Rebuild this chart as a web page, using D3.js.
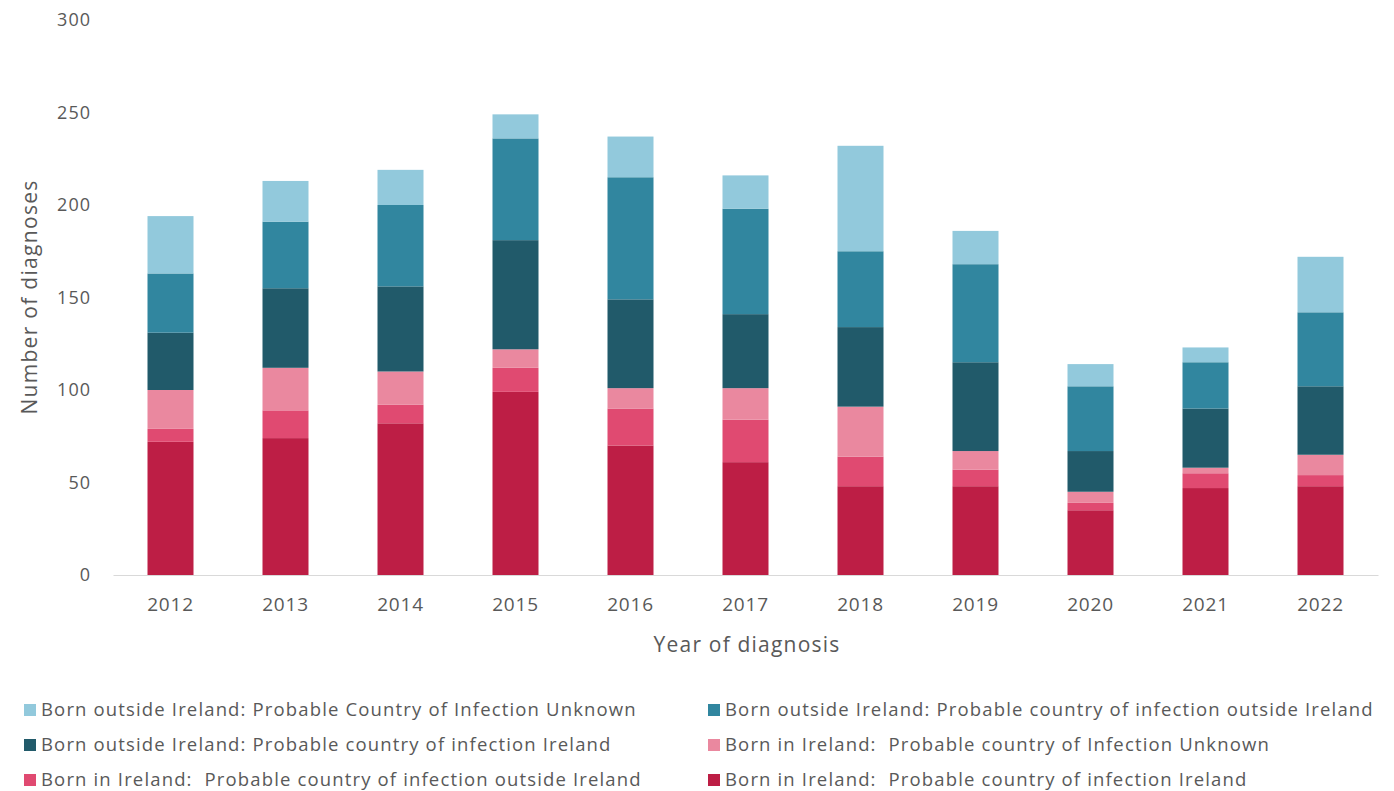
<!DOCTYPE html>
<html>
<head>
<meta charset="utf-8">
<script src="https://cdn.jsdelivr.net/npm/d3@7"></script>
<style>
  html, body { margin: 0; padding: 0; background: #fff; }
  svg { display: block; font-family: "Open Sans", "Lato", sans-serif; }
  text { white-space: pre; }
</style>
</head>
<body>
<svg id="chart" width="1394" height="791"></svg>
<script>
const years = ["2012","2013","2014","2015","2016","2017","2018","2019","2020","2021","2022"];
const bornIrlInfIrl      = [72, 74, 82, 99, 70, 61, 48, 48, 35, 47, 48];
const bornIrlInfOutside  = [7, 15, 10, 13, 20, 23, 16, 9, 4, 8, 6];
const bornIrlInfUnknown  = [21, 23, 18, 10, 11, 17, 27, 10, 6, 3, 11];
const bornOutInfIrl      = [31, 43, 46, 59, 48, 40, 43, 48, 22, 32, 37];
const bornOutInfOutside  = [32, 36, 44, 55, 66, 57, 41, 53, 35, 25, 40];
const bornOutInfUnknown  = [31, 22, 19, 13, 22, 18, 57, 18, 12, 8, 30];
const yTicks = [0, 50, 100, 150, 200, 250, 300];

const seriesDefs = [
  {key: "bii", name: "Born in Ireland:  Probable country of infection Ireland", values: bornIrlInfIrl, color: "#BD1E45"},
  {key: "bio", name: "Born in Ireland:  Probable country of infection outside Ireland", values: bornIrlInfOutside, color: "#E04A71"},
  {key: "biu", name: "Born in Ireland:  Probable country of Infection Unknown", values: bornIrlInfUnknown, color: "#EA889F"},
  {key: "boi", name: "Born outside Ireland: Probable country of infection Ireland", values: bornOutInfIrl, color: "#215A6A"},
  {key: "boo", name: "Born outside Ireland: Probable country of infection outside Ireland", values: bornOutInfOutside, color: "#31869F"},
  {key: "bou", name: "Born outside Ireland: Probable Country of Infection Unknown", values: bornOutInfUnknown, color: "#92C9DC"}
];

const table = years.map((y, i) => {
  const row = {year: y};
  seriesDefs.forEach(s => row[s.key] = s.values[i]);
  return row;
});

const svg = d3.select("#chart");
const x = d3.scaleBand().domain(years).range([113, 1378]).paddingInner(0.6).paddingOuter(0.3);
const y = d3.scaleLinear().domain([0, 300]).range([575, 20]);

const stacked = d3.stack().keys(seriesDefs.map(s => s.key))(table);

svg.append("g").selectAll("g.layer").data(stacked).join("g")
  .attr("class", "layer")
  .attr("fill", (d, i) => seriesDefs[i].color)
  .selectAll("rect").data(d => d).join("rect")
  .attr("x", d => x(d.data.year))
  .attr("width", x.bandwidth())
  .attr("y", d => y(d[1]))
  .attr("height", d => y(d[0]) - y(d[1]));

const FONT = "'Open Sans', Lato, sans-serif";

// X axis
const xAxis = svg.append("g").attr("transform", "translate(0,575)")
  .call(d3.axisBottom(x).tickSize(0).tickPadding(23));
xAxis.select(".domain").attr("stroke", "#D9D9D9").attr("stroke-width", 1.2);
xAxis.selectAll("text").attr("font-size", 19).attr("fill", "#595959")
  .attr("font-family", FONT).attr("letter-spacing", 0.8);

// Y axis
const yAxis = svg.append("g").attr("transform", "translate(91,0)")
  .call(d3.axisLeft(y).tickValues(yTicks).tickSize(0).tickPadding(0));
yAxis.select(".domain").remove();
yAxis.selectAll("text").attr("font-size", 18).attr("fill", "#595959")
  .attr("font-family", FONT).attr("letter-spacing", 1);

// Axis titles
svg.append("text")
  .attr("transform", "translate(30,297) rotate(-90)")
  .attr("text-anchor", "middle").attr("dy", "0.35em")
  .attr("font-size", 21).attr("fill", "#595959").attr("letter-spacing", 1.3)
  .text("Number of diagnoses");
svg.append("text")
  .attr("x", 747).attr("y", 652)
  .attr("text-anchor", "middle")
  .attr("font-size", 21).attr("fill", "#595959").attr("letter-spacing", 1.2)
  .text("Year of diagnosis");

// Legend
const legendOrder = ["bou", "boo", "boi", "biu", "bio", "bii"];
const legend = svg.append("g");
legendOrder.forEach((k, i) => {
  const s = seriesDefs.find(d => d.key === k);
  const col = i % 2, row = Math.floor(i / 2);
  const lx = col === 0 ? 24 : 708;
  const ly = 710 + row * 35;
  legend.append("rect").attr("x", lx).attr("y", ly - 6).attr("width", 12).attr("height", 12).attr("fill", s.color);
  legend.append("text").attr("x", lx + 17).attr("y", ly).attr("dy", "0.35em")
    .attr("font-size", 18.5).attr("fill", "#595959").attr("letter-spacing", 1.15)
    .text(s.name);
});
</script>
</body>
</html>
